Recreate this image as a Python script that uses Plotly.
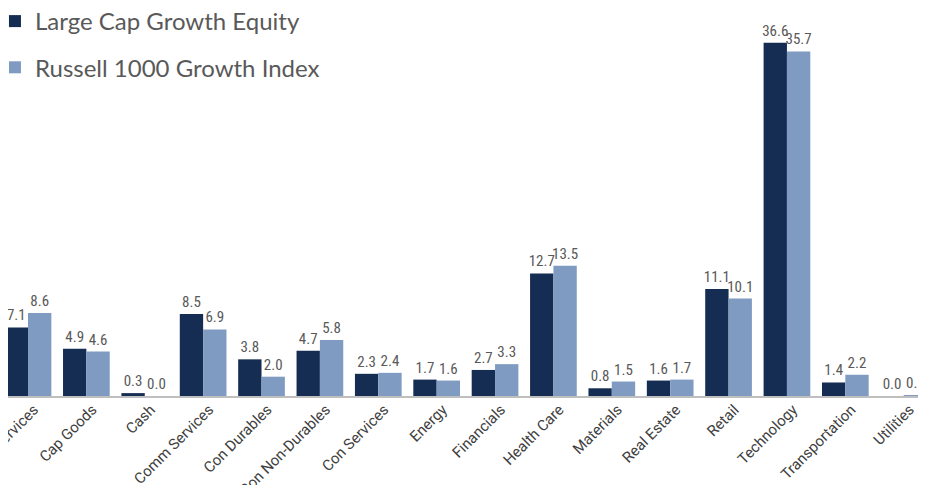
import plotly.graph_objects as go

categories = ["Bus Services", "Cap Goods", "Cash", "Comm Services", "Con Durables",
              "Con Non-Durables", "Con Services", "Energy", "Financials", "Health Care",
              "Materials", "Real Estate", "Retail", "Technology", "Transportation", "Utilities"]
large_cap = [7.1, 4.9, 0.3, 8.5, 3.8, 4.7, 2.3, 1.7, 2.7, 12.7, 0.8, 1.6, 11.1, 36.6, 1.4, 0.0]
russell = [8.6, 4.6, 0.0, 6.9, 2.0, 5.8, 2.4, 1.6, 3.3, 13.5, 1.5, 1.7, 10.1, 35.7, 2.2, 0.1]

series_names = ["Large Cap Growth Equity", "Russell 1000 Growth Index"]
colors = ["#152d53", "#7f9bc2"]

cond = "Roboto Condensed, Liberation Sans Narrow, DejaVu Sans Condensed, Roboto"
label_font = dict(family=cond, size=15, color="#595959")

fig = go.Figure()
for name, vals, col in zip(series_names, [large_cap, russell], colors):
    fig.add_trace(go.Bar(
        x=categories, y=vals, name=name, marker_color=col, marker_line_width=0,
        texttemplate="%{y:.1f}", textposition="outside", textfont=label_font,
        constraintext="none", cliponaxis=False, legendgroup=name,
    ))

fig.update_layout(
    width=926, height=485,
    margin=dict(l=0, r=8, t=2, b=97, autoexpand=False),
    paper_bgcolor="white", plot_bgcolor="white",
    barmode="group", bargap=0.2, bargroupgap=0,
    showlegend=True,
    legend=dict(x=-0.0142, y=1.0285, xanchor="left", yanchor="top",
                font=dict(family="Lato, Open Sans, sans-serif", size=24, color="#595959"),
                traceorder="grouped", tracegroupgap=12, bgcolor="rgba(0,0,0,0)"),
    xaxis=dict(range=[-0.3426, 15.382], showline=True, linecolor="#bfbfbf", linewidth=2,
               ticks="", tickangle=-45, automargin=False, ticklabelstandoff=-3,
               ticklabelshift=6,
               tickfont=dict(family="Roboto, sans-serif", size=15, color="#404040")),
    yaxis=dict(range=[0, 40], visible=False, showgrid=False, zeroline=False),
)

fig.write_html("out.html")
